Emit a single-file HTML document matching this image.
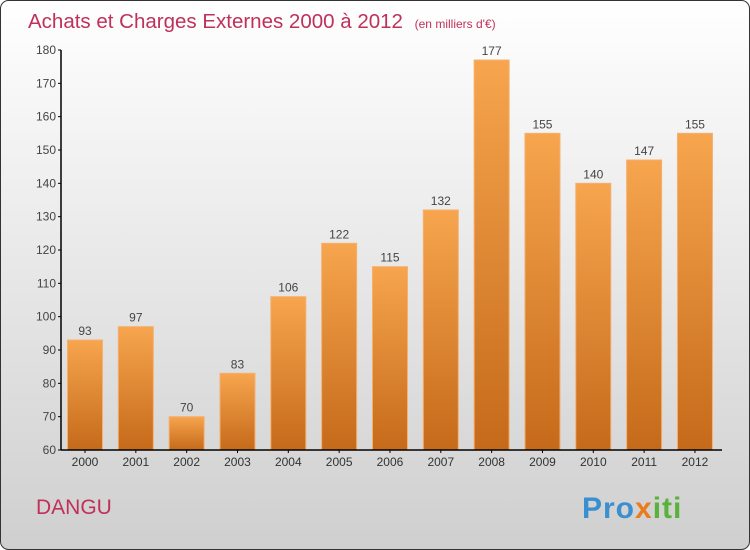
<!DOCTYPE html>
<html><head><meta charset="utf-8"><style>
body{margin:0;width:750px;height:550px;overflow:hidden}
svg{display:block;font-family:"Liberation Sans",sans-serif}
</style></head><body>
<svg id="c" width="750" height="550">
<defs>
<linearGradient id="bg" x1="0" y1="0" x2="0" y2="1"><stop offset="0" stop-color="#ffffff"/><stop offset="1" stop-color="#cfcfcf"/></linearGradient>
<linearGradient id="bar" x1="0" y1="0" x2="0" y2="1"><stop offset="0" stop-color="#f7a54e"/><stop offset="1" stop-color="#c56a1a"/></linearGradient>
</defs>
<rect x="0.5" y="0.5" width="749" height="549" rx="8" fill="url(#bg)" stroke="#333"/>
<text x="28" y="28" font-size="20.5" fill="#c0305a" font-weight="300">Achats et Charges Externes 2000 à 2012 <tspan font-size="12" dx="6">(en milliers d'€)</tspan></text>
<text x="36" y="514" font-size="21" fill="#c0305a">DANGU</text>
<text x="582" y="518" font-size="30" font-weight="bold" letter-spacing="1"><tspan fill="#3a8fd0">Pro</tspan><tspan fill="#e87d1e">x</tspan><tspan fill="#59b23a">iti</tspan></text>
<g id="plot"></g>
</svg>
<script>
const categories=["2000","2001","2002","2003","2004","2005","2006","2007","2008","2009","2010","2011","2012"];
const values=[93,97,70,83,106,122,115,132,177,155,140,147,155];
const yTicks=[60,70,80,90,100,110,120,130,140,150,160,170,180];
const ns="http://www.w3.org/2000/svg";
const g=document.getElementById('plot');
const yMin=60,yMax=180,plotTop=50,plotBot=450,x0=61,step=50.83,first=85,bw=35;
const y=v=>plotBot-(v-yMin)/(yMax-yMin)*(plotBot-plotTop);
const x=i=>first+i*step;
function mk(t,a){const e=document.createElementNS(ns,t);for(const k in a)e.setAttribute(k,a[k]);g.appendChild(e);return e;}
yTicks.forEach(t=>{
  const l=mk('line',{x1:x0-3,x2:x0,y1:y(t),y2:y(t),stroke:'#000'});
  
  
  const tx=mk('text',{x:x0-5,y:y(t)+4,'font-size':12,'text-anchor':'end',fill:'#444'});
  tx.textContent=t;
  
  
});
values.forEach((v,i)=>{
  const r=mk('rect',{x:x(i)-bw/2,y:y(v),width:bw,height:plotBot-y(v),fill:'url(#bar)',stroke:'#f5b070','stroke-width':1});
  
  
  const t=mk('text',{x:x(i),y:y(v)-5,'font-size':12,'text-anchor':'middle',fill:'#444'});
  t.textContent=v;
  
  
  const c=mk('text',{x:x(i),y:plotBot+16,'font-size':12,'text-anchor':'middle',fill:'#333'});
  c.textContent=categories[i];
  
  
  const tk=mk('line',{x1:x(i),x2:x(i),y1:plotBot,y2:plotBot+3,stroke:'#000'});
  
  
});
const ya=mk('line',{x1:x0,x2:x0,y1:plotTop,y2:plotBot,stroke:'#000','stroke-width':1.5});


const xa=mk('line',{x1:x0,x2:722,y1:plotBot,y2:plotBot,stroke:'#000','stroke-width':1.5});


</script>
</body></html>
